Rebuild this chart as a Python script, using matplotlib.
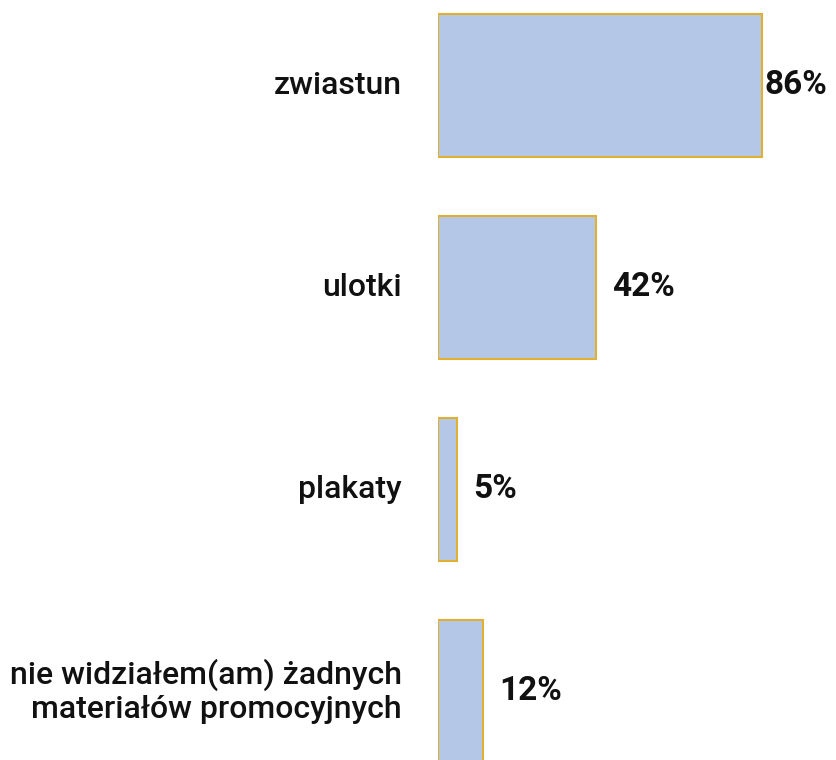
import matplotlib.pyplot as plt
import numpy as np

# categories and survey shares (percent)
categories = ['zwiastun', 'ulotki', 'plakaty',
              'nie widziałem(am) żadnych\nmateriałów promocyjnych']
values = [86, 42, 5, 12]

plt.rcParams['font.family'] = ['Roboto', 'DejaVu Sans']

fig = plt.figure(figsize=(8.36, 7.6), dpi=100)
# axes starts where the bars start, runs to the right edge
ax = fig.add_axes([438 / 836, 0, 398 / 836, 1])

y = np.arange(len(categories))
ax.barh(y, values, height=0.708, color='#B4C7E7', edgecolor='#E2B030', linewidth=1.5)

ax.set_xlim(0, 398 / 3.767)
ax.set_ylim((760 - 85.5) / 202, -85.5 / 202)
ax.axis('off')

# category names to the left of the bars
for yi, name in zip(y, categories):
    ax.annotate(name, xy=(0, yi), xytext=(-36, 0), textcoords='offset pixels',
                ha='right', va='center', fontsize=23, fontweight='medium',
                color='#111111', multialignment='right')

# value labels after each bar, pulled in if they would run off the figure
for yi, v in zip(y, values):
    off = 16 if v < 80 else 3
    ax.annotate(f'{v}%', xy=(v, yi), xytext=(off, 0), textcoords='offset pixels',
                ha='left', va='center', fontsize=24, fontweight='bold', color='#111111')

fig.savefig('out.png', dpi=100)
